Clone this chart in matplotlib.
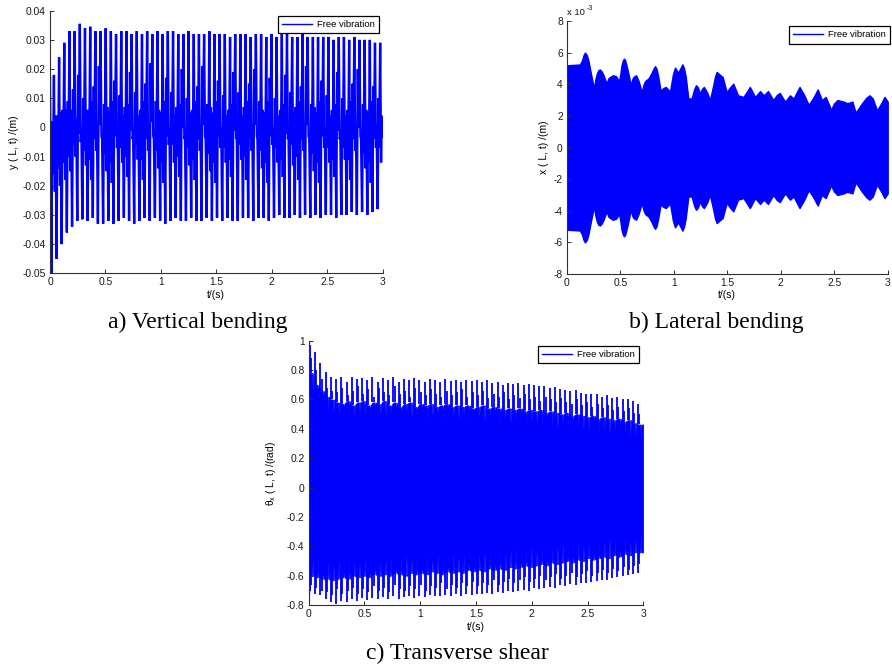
import numpy as np
import matplotlib
matplotlib.use('Agg')
import matplotlib.pyplot as plt
from matplotlib.lines import Line2D
from matplotlib.ticker import FuncFormatter

plt.rcParams['font.family'] = ['Liberation Sans', 'DejaVu Sans']
plt.rcParams['axes.unicode_minus'] = False

# ---------------- data ----------------
# times (s) of the successive troughs of the ~21 Hz oscillation
cycle_t = [0.012, 0.059, 0.105, 0.152, 0.199, 0.246, 0.292, 0.339, 0.386, 0.432,
           0.479, 0.526, 0.572, 0.619, 0.666, 0.713, 0.759, 0.806, 0.853, 0.899,
           0.946, 0.993, 1.039, 1.086, 1.133, 1.180, 1.226, 1.273, 1.320, 1.366,
           1.413, 1.460, 1.506, 1.553, 1.600, 1.647, 1.693, 1.740, 1.787, 1.833,
           1.880, 1.927, 1.973, 2.020, 2.067, 2.114, 2.160, 2.207, 2.254, 2.300,
           2.347, 2.394, 2.440, 2.487, 2.534, 2.581, 2.627, 2.674, 2.721, 2.767,
           2.814, 2.861, 2.907, 2.954]

# a) vertical bending y(L,t) in m : per-cycle turning values
a_start = (0.0, 0.017)
a_end = (3.0, -0.003)
a_trough = [-0.050, -0.045, -0.040, -0.036, -0.034, -0.032, -0.0315, -0.032, -0.031, -0.033,
            -0.033, -0.032, -0.033, -0.032, -0.031, -0.032, -0.033, -0.032, -0.031, -0.032,
            -0.031, -0.032, -0.033, -0.032, -0.031, -0.032, -0.032, -0.031, -0.032, -0.032,
            -0.031, -0.032, -0.031, -0.032, -0.031, -0.032, -0.032, -0.031, -0.031, -0.032,
            -0.031, -0.031, -0.032, -0.031, -0.030, -0.031, -0.031, -0.030, -0.031, -0.030,
            -0.031, -0.030, -0.031, -0.030, -0.030, -0.031, -0.030, -0.030, -0.029, -0.030,
            -0.029, -0.030, -0.029, -0.028]
a_rise_hi = [0.002, 0.004, 0.006, 0.009, 0.013, 0.018, 0.010, 0.006, 0.014, 0.021,
             0.008, 0.005, 0.016, 0.011, 0.007, 0.019, 0.012, 0.006, 0.015, 0.022,
             0.009, 0.005, 0.017, 0.012, 0.007, 0.020, 0.010, 0.006, 0.014, 0.021,
             0.008, 0.005, 0.016, 0.011, 0.006, 0.019, 0.012, 0.007, 0.015, 0.020,
             0.009, 0.005, 0.017, 0.010, 0.006, 0.018, 0.012, 0.007, 0.014, 0.021,
             0.008, 0.005, 0.016, 0.011, 0.006, 0.019, 0.010, 0.006, 0.015, 0.020,
             0.008, 0.005, 0.014, 0.010]
a_rise_lo = [-0.016, -0.014, -0.012, -0.010, -0.006, -0.002, -0.008, -0.011, -0.004, 0.001,
             -0.009, -0.012, -0.003, -0.007, -0.010, -0.001, -0.006, -0.011, -0.004, 0.002,
             -0.008, -0.012, -0.003, -0.006, -0.010, 0.000, -0.007, -0.011, -0.004, 0.001,
             -0.009, -0.012, -0.003, -0.007, -0.011, -0.001, -0.006, -0.010, -0.004, 0.001,
             -0.008, -0.012, -0.003, -0.007, -0.011, -0.002, -0.006, -0.010, -0.004, 0.001,
             -0.009, -0.012, -0.003, -0.007, -0.011, -0.001, -0.007, -0.011, -0.004, 0.000,
             -0.009, -0.012, -0.004, -0.007]
a_peak = [0.018, 0.024, 0.029, 0.033, 0.033, 0.0355, 0.034, 0.0345, 0.033, 0.033,
          0.034, 0.033, 0.032, 0.033, 0.033, 0.032, 0.033, 0.032, 0.033, 0.032,
          0.033, 0.032, 0.033, 0.033, 0.032, 0.032, 0.033, 0.032, 0.032, 0.032,
          0.033, 0.032, 0.032, 0.032, 0.031, 0.032, 0.032, 0.032, 0.031, 0.032,
          0.032, 0.031, 0.032, 0.031, 0.032, 0.032, 0.031, 0.031, 0.032, 0.031,
          0.031, 0.031, 0.031, 0.031, 0.030, 0.031, 0.031, 0.030, 0.031, 0.030,
          0.030, 0.030, 0.029, 0.029]
a_fall_lo = [-0.022, -0.020, -0.018, -0.015, -0.010, -0.005, -0.013, -0.018, -0.008, -0.003,
             -0.015, -0.019, -0.007, -0.012, -0.017, -0.004, -0.011, -0.018, -0.008, -0.003,
             -0.014, -0.019, -0.006, -0.012, -0.017, -0.004, -0.013, -0.018, -0.008, -0.003,
             -0.015, -0.019, -0.007, -0.012, -0.017, -0.004, -0.011, -0.018, -0.008, -0.003,
             -0.014, -0.019, -0.006, -0.012, -0.017, -0.004, -0.013, -0.018, -0.008, -0.003,
             -0.015, -0.019, -0.007, -0.012, -0.017, -0.004, -0.011, -0.018, -0.008, -0.003,
             -0.014, -0.019, -0.007, -0.012]
a_fall_hi = [0.004, 0.005, 0.006, 0.006, 0.003, -0.001, 0.006, 0.009, 0.001, -0.004,
             0.007, 0.009, 0.000, 0.004, 0.008, -0.003, 0.004, 0.009, 0.001, -0.004,
             0.006, 0.009, 0.000, 0.004, 0.008, -0.003, 0.005, 0.009, 0.001, -0.004,
             0.007, 0.009, 0.000, 0.004, 0.008, -0.003, 0.004, 0.009, 0.001, -0.004,
             0.006, 0.009, 0.000, 0.004, 0.008, -0.003, 0.005, 0.009, 0.001, -0.004,
             0.007, 0.009, 0.000, 0.004, 0.008, -0.003, 0.004, 0.009, 0.001, -0.004,
             0.006, 0.009, 0.001, 0.004]

# b) lateral bending x(L,t), envelope in units of 1e-3 m
b_t = [0.0, 0.12, 0.14, 0.155, 0.168, 0.185, 0.20, 0.22, 0.235, 0.253,
       0.265, 0.28, 0.295, 0.309, 0.325, 0.34, 0.371, 0.385, 0.40, 0.43,
       0.46, 0.487, 0.50, 0.51, 0.522, 0.533, 0.545, 0.56, 0.58, 0.596,
       0.61, 0.62, 0.646, 0.67, 0.699, 0.715, 0.73, 0.761, 0.79, 0.81,
       0.823, 0.837, 0.85, 0.876, 0.90, 0.923, 0.943, 0.963, 0.98, 0.99,
       1.01, 1.04, 1.06, 1.08, 1.095, 1.11, 1.135, 1.166, 1.19, 1.207,
       1.225, 1.244, 1.262, 1.28, 1.31, 1.337, 1.37, 1.385, 1.40, 1.43,
       1.456, 1.493, 1.525, 1.555, 1.60, 1.65, 1.68, 1.71, 1.76, 1.806,
       1.84, 1.88, 1.93, 1.96, 1.99, 2.04, 2.086, 2.12, 2.15, 2.175,
       2.22, 2.26, 2.30, 2.345, 2.385, 2.42, 2.47, 2.50, 2.53, 2.59,
       2.62, 2.67, 2.70, 2.76, 2.80, 2.83, 2.86, 2.90, 2.94, 2.97, 3.0]
b_upper = [5.2, 5.25, 5.5, 5.85, 6.0, 5.85, 5.5, 4.8, 4.3, 3.73,
           4.3, 4.7, 4.9, 4.93, 4.8, 4.6, 4.04, 4.35, 4.45, 4.57,
           4.5, 4.2, 4.7, 5.2, 5.5, 5.62, 5.5, 5.1, 4.5, 3.94,
           4.3, 4.45, 4.57, 4.2, 3.51, 3.95, 4.2, 4.36, 4.7, 5.0,
           5.14, 5.0, 4.6, 3.6, 3.75, 3.83, 3.7, 3.51, 4.2, 4.6,
           5.05, 4.73, 5.0, 5.26, 5.0, 4.5, 3.1, 3.1, 3.7, 3.94,
           3.8, 3.41, 3.7, 3.83, 3.5, 3.0, 4.0, 4.5, 4.78, 4.6,
           4.46, 3.51, 3.8, 4.04, 3.3, 3.2, 3.5, 3.83, 3.2, 3.57,
           3.3, 3.57, 3.0, 3.3, 3.45, 2.9, 3.3, 3.1, 3.5, 3.83,
           3.3, 2.7, 3.1, 3.67, 3.0, 3.2, 2.4, 2.8, 3.0, 2.9,
           2.8, 2.9, 2.2, 2.8, 3.15, 3.3, 3.1, 2.35, 2.8, 3.2, 2.9]
b_lower = [-5.2, -5.25, -5.5, -5.85, -6.0, -5.85, -5.5, -4.8, -4.3, -3.73,
           -4.3, -4.7, -4.9, -4.93, -4.8, -4.6, -4.04, -4.35, -4.45, -4.57,
           -4.5, -4.2, -4.7, -5.2, -5.5, -5.62, -5.5, -5.1, -4.5, -3.94,
           -4.3, -4.45, -4.57, -4.2, -3.51, -3.95, -4.2, -4.36, -4.7, -5.0,
           -5.14, -5.0, -4.6, -3.6, -3.75, -3.83, -3.7, -3.51, -4.2, -4.6,
           -5.05, -4.73, -5.0, -5.26, -5.0, -4.5, -3.1, -3.1, -3.7, -3.94,
           -3.8, -3.41, -3.7, -3.83, -3.5, -3.0, -4.0, -4.5, -4.78, -4.6,
           -4.46, -3.51, -3.8, -4.04, -3.3, -3.2, -3.5, -3.83, -3.2, -3.57,
           -3.3, -3.57, -3.0, -3.3, -3.45, -2.9, -3.3, -3.1, -3.5, -3.83,
           -3.3, -2.7, -3.1, -3.67, -3.0, -3.2, -2.4, -2.8, -3.0, -2.9,
           -2.8, -2.9, -2.2, -2.8, -3.15, -3.3, -3.1, -2.35, -2.8, -3.2, -2.9]

# c) transverse shear theta_x(L,t) in rad : per-cycle envelope values
c_start = (0.0, 0.99, -0.80)
c_top_peak = [0.97, 0.92, 0.85, 0.79, 0.755, 0.74, 0.75, 0.72, 0.755, 0.74,
              0.745, 0.73, 0.75, 0.72, 0.745, 0.735, 0.75, 0.72, 0.74, 0.73,
              0.745, 0.735, 0.72, 0.74, 0.73, 0.72, 0.74, 0.725, 0.735, 0.72,
              0.735, 0.725, 0.73, 0.72, 0.73, 0.715, 0.72, 0.70, 0.715, 0.705,
              0.71, 0.70, 0.705, 0.70, 0.69, 0.695, 0.68, 0.685, 0.67, 0.665,
              0.655, 0.665, 0.645, 0.64, 0.635, 0.64, 0.62, 0.63, 0.61, 0.615,
              0.60, 0.605, 0.59, 0.57]
c_top_core = [0.78, 0.70, 0.66, 0.62, 0.60, 0.58, 0.57, 0.59, 0.56, 0.58,
              0.59, 0.56, 0.58, 0.57, 0.59, 0.56, 0.58, 0.55, 0.57, 0.58,
              0.55, 0.57, 0.56, 0.57, 0.55, 0.56, 0.57, 0.55, 0.56, 0.55,
              0.56, 0.54, 0.55, 0.56, 0.54, 0.55, 0.54, 0.53, 0.54, 0.53,
              0.54, 0.52, 0.53, 0.52, 0.53, 0.51, 0.52, 0.51, 0.50, 0.51,
              0.49, 0.50, 0.49, 0.48, 0.49, 0.47, 0.48, 0.47, 0.46, 0.47,
              0.45, 0.46, 0.44, 0.43]
c_top_notch = [0.66, 0.60, 0.56, 0.54, 0.52, 0.50, 0.53, 0.51, 0.49, 0.52,
               0.50, 0.48, 0.52, 0.50, 0.49, 0.51, 0.47, 0.50, 0.52, 0.48,
               0.50, 0.51, 0.47, 0.49, 0.51, 0.46, 0.50, 0.48, 0.47, 0.50,
               0.46, 0.49, 0.48, 0.45, 0.49, 0.47, 0.46, 0.48, 0.44, 0.47,
               0.46, 0.43, 0.46, 0.44, 0.42, 0.45, 0.43, 0.41, 0.44, 0.42,
               0.40, 0.43, 0.41, 0.39, 0.42, 0.38, 0.40, 0.37, 0.39, 0.36,
               0.38, 0.35, 0.36, 0.34]
c_top_mid = [0.88, 0.80, 0.74, 0.68, 0.66, 0.65, 0.68, 0.63, 0.66, 0.69,
             0.64, 0.67, 0.62, 0.68, 0.65, 0.63, 0.69, 0.64, 0.66, 0.62,
             0.68, 0.65, 0.63, 0.67, 0.64, 0.62, 0.66, 0.63, 0.65, 0.67,
             0.62, 0.65, 0.63, 0.66, 0.61, 0.64, 0.62, 0.65, 0.60, 0.63,
             0.61, 0.64, 0.60, 0.62, 0.59, 0.62, 0.60, 0.58, 0.61, 0.58,
             0.57, 0.60, 0.56, 0.58, 0.55, 0.57, 0.54, 0.56, 0.53, 0.55,
             0.52, 0.54, 0.51, 0.50]
c_bot_peak = [-0.70, -0.72, -0.73, -0.76, -0.78, -0.79, -0.77, -0.78, -0.76, -0.77,
              -0.75, -0.765, -0.75, -0.76, -0.745, -0.755, -0.74, -0.755, -0.745, -0.74,
              -0.75, -0.735, -0.745, -0.73, -0.74, -0.735, -0.73, -0.74, -0.725, -0.735,
              -0.72, -0.73, -0.72, -0.725, -0.715, -0.72, -0.71, -0.715, -0.70, -0.71,
              -0.70, -0.695, -0.70, -0.685, -0.69, -0.68, -0.675, -0.68, -0.665, -0.67,
              -0.655, -0.66, -0.65, -0.645, -0.64, -0.635, -0.63, -0.625, -0.615, -0.61,
              -0.60, -0.595, -0.585, -0.58]
c_bot_mid = [-0.66, -0.68, -0.70, -0.71, -0.73, -0.69, -0.72, -0.70, -0.68, -0.72,
             -0.69, -0.71, -0.67, -0.70, -0.68, -0.71, -0.66, -0.69, -0.70, -0.67,
             -0.69, -0.66, -0.70, -0.67, -0.68, -0.65, -0.69, -0.66, -0.68, -0.65,
             -0.67, -0.64, -0.67, -0.65, -0.66, -0.63, -0.66, -0.64, -0.62, -0.65,
             -0.63, -0.61, -0.64, -0.62, -0.60, -0.63, -0.61, -0.59, -0.62, -0.60,
             -0.58, -0.61, -0.59, -0.57, -0.60, -0.58, -0.56, -0.58, -0.55, -0.57,
             -0.54, -0.56, -0.53, -0.52]
c_bot_core = [-0.60, -0.61, -0.62, -0.62, -0.63, -0.62, -0.61, -0.62, -0.60, -0.61,
              -0.60, -0.61, -0.59, -0.60, -0.59, -0.60, -0.58, -0.59, -0.60, -0.58,
              -0.59, -0.58, -0.59, -0.57, -0.58, -0.59, -0.57, -0.58, -0.57, -0.58,
              -0.56, -0.57, -0.56, -0.57, -0.55, -0.56, -0.55, -0.56, -0.54, -0.55,
              -0.54, -0.53, -0.54, -0.53, -0.52, -0.53, -0.51, -0.52, -0.51, -0.50,
              -0.51, -0.49, -0.50, -0.48, -0.49, -0.48, -0.47, -0.48, -0.46, -0.47,
              -0.45, -0.46, -0.44, -0.44]
c_bot_notch = [-0.50, -0.48, -0.52, -0.50, -0.53, -0.49, -0.51, -0.48, -0.50, -0.52,
               -0.48, -0.50, -0.47, -0.51, -0.49, -0.47, -0.50, -0.48, -0.46, -0.49,
               -0.47, -0.48, -0.46, -0.49, -0.45, -0.47, -0.48, -0.45, -0.47, -0.46,
               -0.44, -0.47, -0.45, -0.43, -0.46, -0.44, -0.42, -0.45, -0.43, -0.41,
               -0.44, -0.42, -0.40, -0.43, -0.41, -0.39, -0.42, -0.40, -0.38, -0.41,
               -0.39, -0.37, -0.40, -0.38, -0.36, -0.39, -0.37, -0.35, -0.38, -0.36,
               -0.34, -0.37, -0.35, -0.33]

x_ticks = [0, 0.5, 1, 1.5, 2, 2.5, 3]
a_yticks = [-0.05, -0.04, -0.03, -0.02, -0.01, 0, 0.01, 0.02, 0.03, 0.04]
b_yticks = [-8, -6, -4, -2, 0, 2, 4, 6, 8]
c_yticks = [-0.8, -0.6, -0.4, -0.2, 0, 0.2, 0.4, 0.6, 0.8, 1]
legend_label = 'Free vibration'
captions = ['a) Vertical bending', 'b) Lateral bending', 'c) Transverse shear']

# ---------------- figure ----------------
W, H = 892, 665
fig = plt.figure(figsize=(W / 100, H / 100), dpi=100)


def px_axes(left, top, right, bottom):
    return fig.add_axes([left / W, 1 - bottom / H, (right - left) / W, (bottom - top) / H])


BLUE = (0, 0, 1)
fmt = FuncFormatter(lambda v, p: f'{v:g}')


def style(ax, yticks, ylim):
    for s in ['top', 'right']:
        ax.spines[s].set_visible(False)
    for s in ['left', 'bottom']:
        ax.spines[s].set_linewidth(0.8)
        ax.spines[s].set_color('#303030')
    ax.set_xlim(0, 3)
    ax.set_ylim(*ylim)
    ax.set_xticks(x_ticks)
    ax.set_yticks(yticks)
    ax.xaxis.set_major_formatter(fmt)
    ax.yaxis.set_major_formatter(fmt)
    ax.tick_params(direction='in', length=3, width=0.7, labelsize=7.4,
                   color='#303030', labelcolor='#1a1a1a', pad=3)
    ax.set_xlabel('t/(s)', fontsize=7.4)
    ax.xaxis.set_label_coords(0.5, -0.062)
    h = Line2D([], [], color=BLUE, lw=1.0)
    return h


def add_legend(ax, h, anchor):
    lg = ax.legend([h], [legend_label], loc='upper right', bbox_to_anchor=anchor,
                   borderaxespad=0, fontsize=6.8, handlelength=3.2, handletextpad=0.5,
                   borderpad=0.45, fancybox=False, framealpha=1)
    lg.get_frame().set_edgecolor('black')
    lg.get_frame().set_linewidth(0.9)


# ---- a) ----
axa = px_axes(50, 10.7, 382.7, 273.3)
t = np.array(cycle_t)
nxt = np.append(t[1:], a_end[0])
dt = nxt - t
fr = np.array([0.0, 0.18, 0.30, 0.5, 0.68, 0.80])
vals = np.column_stack([a_trough, a_rise_hi, a_rise_lo, a_peak, a_fall_lo, a_fall_hi])
times = t[:, None] + dt[:, None] * fr[None, :]
xa = np.concatenate([[a_start[0]], times.ravel(), [a_end[0]]])
ya = np.concatenate([[a_start[1]], vals.ravel(), [a_end[1]]])
axa.plot(xa, ya, color=BLUE, lw=1.7, solid_joinstyle='miter')
h = style(axa, a_yticks, (-0.05, 0.04))
axa.set_ylabel('y ( L, t) /(m)', fontsize=7.4)
axa.yaxis.set_label_coords(-0.093, 0.5)
add_legend(axa, h, (0.989, 0.98))

# ---- b) ----
axb = px_axes(567, 21, 887.7, 274)
axb.fill_between(b_t, b_lower, b_upper, color=BLUE, lw=1.0, edgecolor=BLUE)
h = style(axb, b_yticks, (-8, 8))
axb.set_ylabel('x ( L, t) /(m)', fontsize=7.4)
axb.yaxis.set_label_coords(-0.056, 0.5)
axb.text(0.0, 1.032, 'x 10', transform=axb.transAxes, fontsize=6.8,
         ha='left', va='center', color='#1a1a1a')
axb.text(0.06, 1.048, '-3', transform=axb.transAxes, fontsize=5.0,
         ha='left', va='center', color='#1a1a1a')
add_legend(axb, h, (1.007, 0.98))

# ---- c) ----
axc = px_axes(308.7, 340.7, 643.3, 605.3)
nxt_c = np.append(t[1:], 3.0)
dtc = nxt_c - t
frc = np.array([0.0, 0.40, 0.5, 0.60])
xc = (t[:, None] + dtc[:, None] * frc[None, :]).ravel()
top_e = np.column_stack([c_top_core, c_top_core, c_top_notch, c_top_core]).ravel()
bot_e = np.column_stack([c_bot_core, c_bot_core, c_bot_notch, c_bot_core]).ravel()
xc = np.concatenate([[c_start[0]], xc, [3.0]])
top_e = np.concatenate([[c_start[1]], top_e, [c_top_core[-1]]])
bot_e = np.concatenate([[c_start[2]], bot_e, [c_bot_core[-1]]])
axc.fill_between(xc, bot_e, top_e, color=BLUE, lw=0.5, edgecolor=BLUE)
axc.vlines(t, c_top_core, c_top_peak, color=BLUE, lw=1.3)
axc.vlines(t + 0.22 * dtc, c_top_core, c_top_mid, color=BLUE, lw=1.3)
axc.vlines(t, c_bot_peak, c_bot_core, color=BLUE, lw=1.3)
axc.vlines(t + 0.22 * dtc, c_bot_mid, c_bot_core, color=BLUE, lw=1.3)
axc.vlines([c_start[0]], c_start[2], c_start[1], color=BLUE, lw=1.5)
h = style(axc, c_yticks, (-0.8, 1.0))
axc.set_ylabel('θ$_\\mathregular{x}$ ( L, t) /(rad)', fontsize=7.4)
axc.yaxis.set_label_coords(-0.092, 0.5)
add_legend(axc, h, (0.987, 0.98))

# ---- captions ----
cap_kw = dict(ha='center', va='center', fontsize=17, family=['Liberation Serif', 'DejaVu Serif'])
fig.text(198 / W, 1 - 322 / H, captions[0], **cap_kw)
fig.text(716 / W, 1 - 322 / H, captions[1], **cap_kw)
fig.text(457 / W, 1 - 653 / H, captions[2], **cap_kw)

fig.savefig('out.png', dpi=100)
